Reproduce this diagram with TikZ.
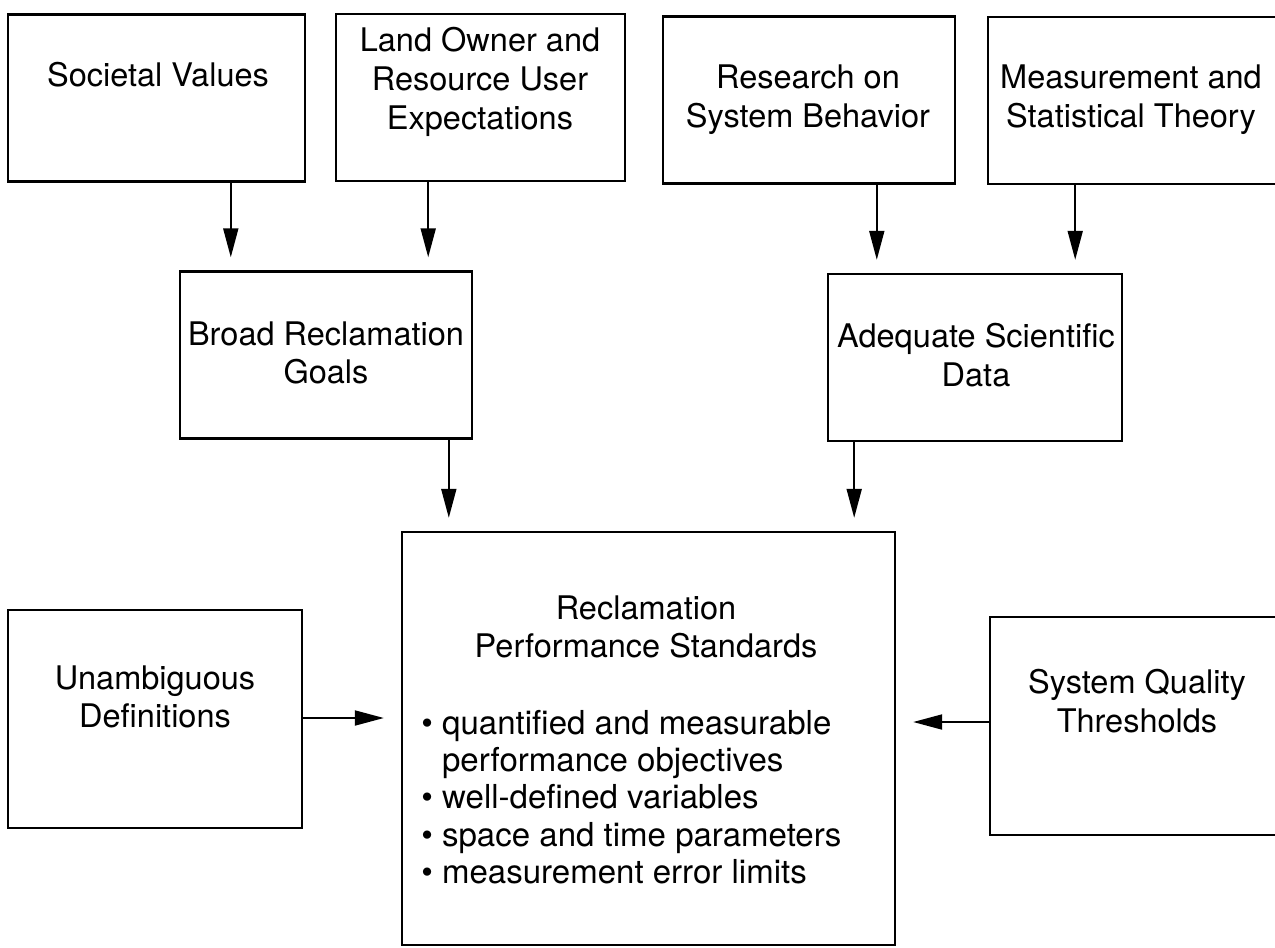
\documentclass[tikz,border=0pt]{standalone}
\usepackage{fontspec}
\setmainfont{TeX Gyre Heros}
\usetikzlibrary{arrows.meta}

\begin{document}
\begin{tikzpicture}[x=0.02cm,y=-0.02cm]
			\tikzset{
			  box/.style = { draw, line width=1.4pt, inner sep=0pt },
			  txt/.style = { align=center, inner sep=0pt,
			                 font=\fontsize{18.5}{22}\selectfont },
			  arr/.style = { line width=1.1pt, shorten >=0.26cm,
			                 -{Triangle[length=0.58cm, width=0.3cm]} } }
			\clip (0,0) rectangle (1275,947);
			% sources
			\begin{scope}[box/.append style = {minimum height=3.34cm}]
			\node[box, minimum width=5.94cm] (societal) at (156.5,98) {};
			\node[box, minimum width=5.78cm] (owners) at (480.5,97.5) {};
			\node[box, minimum width=5.84cm] (research) at (809,100) {};
			\node[box, minimum width=6.04cm] (theory) at (1139,100.5) {};
			\node[box, minimum width=5.84cm] (goals) at (326,355) {};
			\node[box, minimum width=5.88cm] (data) at (975,357.5) {};
			\end{scope}
			\begin{scope}[box/.append style = {minimum height=4.36cm}]
			\node[box, minimum width=5.88cm] (defs) at (155,719) {};
			\node[box, minimum width=6.00cm] (thresholds) at (1140,726) {};
			\end{scope}
			\node[box, minimum width=9.86cm, minimum height=8.26cm] (standards) at (648.5,738.5) {};
			% texts
			\node[txt] (societal-txt) at (158,75) {Societal Values};
			\node[txt] (owners-txt) at (480,82) {Land Owner and\\Resource User\\Expectations};
			\node[txt] (research-txt) at (808,100) {Research on\\System Behavior};
			\node[txt] (theory-txt) at (1131,100) {Measurement and\\Statistical Theory};
			\node[txt] (goals-txt) at (326,353) {Broad Reclamation\\Goals};
			\node[txt] (data-txt) at (976,355) {Adequate Scientific\\Data};
			\node[txt] (defs-txt) at (155,697) {Unambiguous\\Definitions};
			\node[txt] (thresholds-txt) at (1137,701) {System Quality\\Thresholds};
			\node[txt] (standards-txt) at (646,627) {Reclamation\\Performance Standards};
			\node[txt, align=left, anchor=west, font=\fontsize{18.8}{21.3}\selectfont]
			  (standards-list) at (421,797) {\textbullet\ quantified and measurable\\
			  \phantom{\textbullet\ }performance objectives\\
			  \textbullet\ well-defined variables\\
			  \textbullet\ space and time parameters\\
			  \textbullet\ measurement error limits};
			% arrows
			\draw[arr] ([xshift=1.04cm]goals.north west |- societal.south) -- ([xshift=1.04cm]goals.north west);
			\draw[arr] ([xshift=-0.9cm]goals.north east |- owners.south) -- ([xshift=-0.9cm]goals.north east);
			\draw[arr] ([xshift=1.0cm]data.north west |- research.south) -- ([xshift=1.0cm]data.north west);
			\draw[arr] ([xshift=-0.96cm]data.north east |- theory.south) -- ([xshift=-0.96cm]data.north east);
			\draw[arr] ([xshift=0.96cm]standards.north west |- goals.south) -- ([xshift=0.96cm]standards.north west);
			\draw[arr] ([xshift=-0.84cm]standards.north east |- data.south) -- ([xshift=-0.84cm]standards.north east);
			\draw[arr, shorten >=0.34cm] ([yshift=0.02cm]defs.east) -- ([yshift=0.02cm]defs.east -| standards.west);
			\draw[arr, shorten >=0.34cm] ([yshift=0.08cm]thresholds.west) -- ([yshift=0.08cm]thresholds.west -| standards.east);
		\end{tikzpicture}
\end{document}
